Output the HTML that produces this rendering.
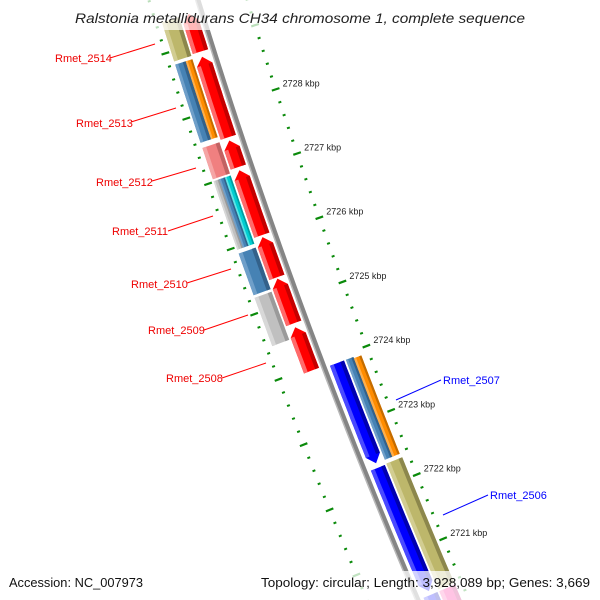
<!DOCTYPE html>
<html><head><meta charset="utf-8"><style>
html,body{margin:0;padding:0;background:#fff;width:600px;height:600px;overflow:hidden;}
svg{display:block;font-family:"Liberation Sans",sans-serif;overflow:hidden;}
</style></head><body>
<svg id="map" width="600" height="600" viewBox="0 0 600 600" xmlns="http://www.w3.org/2000/svg">
<defs><clipPath id="frame"><rect x="0" y="0" width="600" height="600"/></clipPath></defs>
<g clip-path="url(#frame)">
<rect x="0" y="0" width="600" height="600" fill="#fff"/>
<g id="ticks"></g>
<g id="backbone"></g>
<g id="features"></g>
<g id="ticklabels"></g>
<g font-size="11">
  <g><line x1="110" y1="58" x2="155" y2="44" stroke="#f00" stroke-width="1"/><text x="55" y="62" fill="#e00">Rmet_2514</text></g>
  <g><line x1="131" y1="122" x2="176" y2="108" stroke="#f00" stroke-width="1"/><text x="76" y="127" fill="#e00">Rmet_2513</text></g>
  <g><line x1="152" y1="181" x2="196" y2="168" stroke="#f00" stroke-width="1"/><text x="96" y="186" fill="#e00">Rmet_2512</text></g>
  <g><line x1="168" y1="231" x2="213" y2="216" stroke="#f00" stroke-width="1"/><text x="112" y="235" fill="#e00">Rmet_2511</text></g>
  <g><line x1="187" y1="283" x2="231" y2="269" stroke="#f00" stroke-width="1"/><text x="131" y="288" fill="#e00">Rmet_2510</text></g>
  <g><line x1="204" y1="330" x2="248" y2="315" stroke="#f00" stroke-width="1"/><text x="148" y="334" fill="#e00">Rmet_2509</text></g>
  <g><line x1="222" y1="378" x2="266" y2="363" stroke="#f00" stroke-width="1"/><text x="166" y="382" fill="#e00">Rmet_2508</text></g>
  <g><line x1="396" y1="400" x2="441" y2="380" stroke="#00f" stroke-width="1"/><text x="443" y="384" fill="#00f">Rmet_2507</text></g>
  <g><line x1="443" y1="515" x2="488" y2="495" stroke="#00f" stroke-width="1"/><text x="490" y="499" fill="#00f">Rmet_2506</text></g>
</g>
<rect x="0" y="0" width="600" height="30" fill="#fff" opacity="0.72"/>
<text x="300" y="23" text-anchor="middle" font-size="14" font-style="italic" fill="#222" textLength="450" lengthAdjust="spacingAndGlyphs">Ralstonia metallidurans CH34 chromosome 1, complete sequence</text>
<rect x="0" y="571" width="600" height="29" fill="#fff" opacity="0.75"/>
<text x="9" y="587" font-size="13" fill="#111" textLength="134" lengthAdjust="spacingAndGlyphs">Accession: NC_007973</text>
<text x="590" y="587" font-size="13" fill="#111" text-anchor="end" textLength="329" lengthAdjust="spacingAndGlyphs">Topology: circular; Length: 3,928,089 bp; Genes: 3,669</text>
</g>
</svg>
<script>
// ---- data ----
const majorTicks = [2720, 2721, 2722, 2723, 2724, 2725, 2726, 2727, 2728, 2729, 2730];
const tickLabels = ["2720 kbp","2721 kbp","2722 kbp","2723 kbp","2724 kbp","2725 kbp","2726 kbp","2727 kbp","2728 kbp","2729 kbp","2730 kbp"];
const featNames  = ["cds-a","cds-b","cds-c","cds-d","cds-e","cds-f","cds-g",
  "gene-2514","gene-2513","cds-2513","gene-2512","gene-2511","mid-2511","cds-2511","gene-2510","gene-2509",
  "cds-h","cds-i","cds-j","gene-2507","cds-2507","gene-2506","gene-next"];
const featStart  = [2729.45,2728.79,2727.50,2727.04,2726.01,2725.37,2724.62,
  2729.45,2728.80,2728.80,2727.52,2727.01,2727.01,2727.01,2725.90,2725.22,
  2723.92,2722.30,2720.33,2723.92,2723.90,2722.31,2720.33];
const featEnd    = [2728.87,2727.55,2727.09,2726.04,2725.39,2724.68,2723.95,
  2728.85,2727.60,2727.60,2727.04,2725.96,2725.96,2725.96,2725.26,2724.48,
  2722.37,2720.39,2719.60,2722.37,2722.37,2720.36,2719.60];
const featSlot   = ["fwdCds","fwdCds","fwdCds","fwdCds","fwdCds","fwdCds","fwdCds",
  "fwdFull","fwdOuter","fwdInner","fwdFull","fwdOut3","fwdMid3","fwdIn3","fwdFull","fwdFull",
  "revCds","revCds","revCds","revInner","revOuter","revFull","revFull"];
const featColor  = ["red","red","red","red","red","red","red",
  "khaki","steel","orange","pink","gray","steel","cyan","steel","gray",
  "blue","blue","blue","steel","orange","khaki","magenta"];
const featArrow  = ["up","up","up","up","up","up","up",
  "","","","","","","","","",
  "down","down","down","","","",""];

// ---- geometry ----
const slots = {fwdCds:[5,21], fwdFull:[23,41], fwdOuter:[30,41], fwdInner:[23,30],
  fwdOut3:[35,41], fwdMid3:[29,35], fwdIn3:[23,29],
  revCds:[-21,-6], revInner:[-31,-23], revOuter:[-39,-31], revFull:[-40,-23]};
const palette = {red:["#ff0000","#ff6a6a","#c40000"], blue:["#0000ff","#4a4aff","#0000b0"],
  khaki:["#bdb76b","#d2cd92","#8c874c"], steel:["#4682b4","#6f9fc9","#33618a"],
  orange:["#ff8c00","#ffae4a","#c46c00"], pink:["#f08080","#f5a5a5","#c26262"],
  gray:["#c0c0c0","#d8d8d8","#9a9a9a"], cyan:["#00ced1","#5ee3e6","#009ea1"],
  magenta:["#ff1493","#ff60b4","#c00e6e"]};
const NS = "http://www.w3.org/2000/svg";
function Y(k){ return 104 + (2728 - k) * 64.7; }
function P(y0, d){ const s = 0.3067 + 0.0002*y0, n = Math.hypot(1, s);
  return [198 + 0.3067*y0 + 0.0001*y0*y0 - d/n, y0 + d*s/n]; }
function edge(ya, yb, d){ const pts=[]; const steps=Math.max(2, Math.ceil(Math.abs(yb-ya)/8));
  for(let i=0;i<=steps;i++){ pts.push(P(ya+(yb-ya)*i/steps, d)); } return pts; }
function poly(pts, fill, parent, name){ const p=document.createElementNS(NS,"polygon");
  p.setAttribute("points", pts.map(q=>q[0].toFixed(1)+","+q[1].toFixed(1)).join(" "));
  p.setAttribute("fill", fill);
  
  
  parent.appendChild(p); return p; }

// ticks
const tg = document.getElementById("ticks"), lg = document.getElementById("ticklabels");
for (let i = 0; i < majorTicks.length - 1; i++) {
  for (let j = 0; j < 5; j++) {
    const k = majorTicks[i] + j*0.2, y0 = Y(k), major = j === 0;
    if (y0 > 640 || y0 < -30) continue;
    [47, -47].forEach(function(d){
      const len = major ? 4 : 1.5;
      const a = P(y0, d - len), b = P(y0, d + len);
      const l = document.createElementNS(NS, "line");
      l.setAttribute("x1", a[0]); l.setAttribute("y1", a[1]); l.setAttribute("x2", b[0]); l.setAttribute("y2", b[1]);
      l.setAttribute("stroke", "#0a8a0a"); l.setAttribute("stroke-width", major ? 2.2 : 2);
      
      
      tg.appendChild(l);
    });
    if (major) {
      const c = P(y0, -47);
      if (c[1] > 560 || c[1] < 35) continue;
      const t = document.createElementNS(NS, "text");
      t.setAttribute("x", (c[0] + 7).toFixed(1)); t.setAttribute("y", (c[1] - 3).toFixed(1));
      t.setAttribute("font-size", "9"); t.setAttribute("fill", "#222");
      t.textContent = tickLabels[i];
      
      
      lg.appendChild(t);
    }
  }
}

// backbone
const bg = document.getElementById("backbone");
(function(){ const pts = edge(-30, 620, 0);
  const pl = document.createElementNS(NS, "polyline");
  pl.setAttribute("points", pts.map(q=>q.join(",")).join(" "));
  pl.setAttribute("fill", "none"); pl.setAttribute("stroke", "#858585"); pl.setAttribute("stroke-width", "5");
  
  
  bg.appendChild(pl);
  const pts2 = edge(-30, 620, 2.2);
  const pl2 = document.createElementNS(NS, "polyline");
  pl2.setAttribute("points", pts2.map(q=>q.join(",")).join(" "));
  pl2.setAttribute("fill", "none"); pl2.setAttribute("stroke", "#b8b8b8"); pl2.setAttribute("stroke-width", "1.5");
  
  
  bg.appendChild(pl2);
})();

// features
const fg = document.getElementById("features");
for (let i = 0; i < featNames.length; i++) {
  const y1 = Y(featStart[i]), y2 = Y(featEnd[i]);
  const [d1, d2] = slots[featSlot[i]], col = palette[featColor[i]], w = d2 - d1, mid = (d1 + d2)/2;
  const g = document.createElementNS(NS, "g");
  
  
  fg.appendChild(g);
  let a = y1, b = y2, pts;
  const tip = 8;
  if (featArrow[i] === "up") a = y1 + tip;
  if (featArrow[i] === "down") b = y2 - tip;
  pts = edge(a, b, d2).concat(edge(b, a, d1));
  if (featArrow[i] === "up") pts.push(P(y1, mid));
  if (featArrow[i] === "down") { const o = edge(a, b, d2), inn = edge(b, a, d1); pts = o.concat([P(y2, mid)], inn); }
  poly(pts, col[0], g, 'feature-body');
  const lw = Math.min(4, w*0.28);
  poly(edge(a, b, d2).concat(edge(b, a, d2 - lw)), col[1], g, 'feature-highlight');
  poly(edge(a, b, d1 + lw).concat(edge(b, a, d1)), col[2], g, 'feature-shadow');
}
</script>
</body></html>
